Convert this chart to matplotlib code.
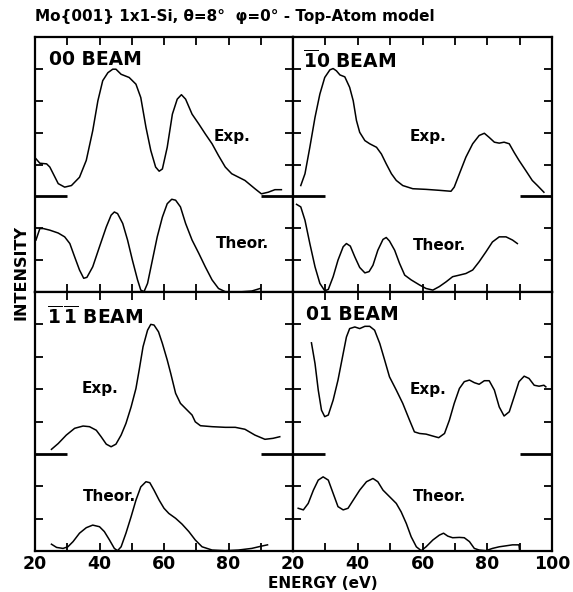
import matplotlib
matplotlib.use("Agg")
import matplotlib.pyplot as plt

plt.rcParams['font.family'] = ['DejaVu Sans']
plt.rcParams['font.weight'] = 'bold'
plt.rcParams['mathtext.fontset'] = 'custom'
plt.rcParams['mathtext.rm'] = 'DejaVu Sans:bold'
plt.rcParams['mathtext.bf'] = 'DejaVu Sans:bold'

# ---- data (energy in eV, intensity in tick units) ----
# experimental curves are measured from their own zero line (drawn at EXP_ZERO)
b00_exp_e = [20.3, 21.5, 23.6, 24.6, 27.2, 29.2, 31.3, 33.8, 35.9, 37.9, 39.5, 41.0, 42.6, 44.1,
             45.1, 46.7, 49.2, 51.3, 52.8, 54.4, 55.9, 57.4, 58.5, 59.5, 61.0, 62.6, 64.1, 65.4,
             66.7, 68.7, 70.8, 72.8, 74.9, 76.9, 79.0, 81.0, 85.1, 88.2, 90.2, 92.3, 94.4, 96.4]
b00_exp_i = [1.18, 1.04, 1.02, 0.92, 0.40, 0.29, 0.34, 0.60, 1.13, 2.06, 3.0, 3.63, 3.88, 3.99,
             3.99, 3.83, 3.73, 3.52, 3.10, 2.17, 1.44, 0.92, 0.79, 0.86, 1.54, 2.58, 3.05, 3.19,
             3.05, 2.58, 2.27, 1.96, 1.65, 1.28, 0.92, 0.71, 0.5, 0.24, 0.08, 0.13, 0.21, 0.21]
b00_th_e = [20.3, 21.5, 22.6, 24.6, 27.2, 29.2, 30.8, 32.3, 33.8, 35.1, 36.1, 37.9, 40.0, 42.1,
            43.6, 44.6, 45.6, 47.2, 48.7, 50.2, 51.8, 52.8, 53.8, 54.9, 56.4, 57.9, 59.5, 61.0,
            62.4, 63.6, 65.1, 66.7, 68.7, 70.8, 72.8, 74.9, 76.9, 79.0, 83.1, 87.2, 89.8]
b00_th_i = [1.63, 1.99, 1.99, 1.94, 1.85, 1.73, 1.52, 1.10, 0.69, 0.43, 0.46, 0.79, 1.42, 2.04,
            2.41, 2.51, 2.46, 2.15, 1.63, 1.0, 0.38, 0.06, 0.01, 0.27, 1.0, 1.73, 2.35, 2.77,
            2.91, 2.88, 2.67, 2.15, 1.63, 1.21, 0.79, 0.38, 0.11, 0.01, 0.0, 0.03, 0.11]

b10_exp_e = [22.4, 23.7, 25.2, 26.8, 28.3, 29.8, 31.4, 32.4, 33.4, 34.5, 36.0, 37.5, 38.6, 39.6,
             40.6, 42.2, 43.7, 45.8, 47.3, 48.8, 50.4, 51.9, 53.9, 57.0, 61.1, 65.2, 68.8, 69.8,
             71.4, 73.4, 75.5, 77.5, 79.1, 80.6, 82.2, 83.7, 85.2, 86.8, 88.3, 89.8, 91.9, 93.9,
             95.5, 97.5]
b10_exp_i = [0.34, 0.71, 1.54, 2.48, 3.21, 3.73, 3.97, 4.01, 3.94, 3.81, 3.75, 3.42, 3.0, 2.38,
             2.01, 1.75, 1.65, 1.54, 1.33, 1.02, 0.71, 0.5, 0.34, 0.24, 0.22, 0.19, 0.16, 0.29,
             0.71, 1.23, 1.65, 1.91, 1.98, 1.85, 1.70, 1.67, 1.70, 1.65, 1.38, 1.13, 0.81, 0.5,
             0.34, 0.13]
b10_th_e = [21.1, 22.4, 23.7, 25.2, 26.8, 28.3, 29.8, 30.9, 32.4, 33.9, 35.5, 36.5, 37.7, 39.1,
            40.6, 42.2, 43.5, 44.7, 46.2, 47.8, 48.8, 49.8, 51.4, 52.9, 54.5, 56.5, 59.1, 61.1,
            63.2, 65.2, 67.3, 69.3, 71.4, 73.4, 75.5, 77.5, 79.6, 81.6, 83.7, 85.8, 87.8, 89.3]
b10_th_i = [2.75, 2.67, 2.25, 1.52, 0.79, 0.27, 0.04, 0.08, 0.48, 1.0, 1.42, 1.52, 1.44, 1.10,
            0.77, 0.60, 0.64, 0.84, 1.31, 1.65, 1.71, 1.60, 1.31, 0.90, 0.53, 0.38, 0.22, 0.11,
            0.06, 0.17, 0.32, 0.48, 0.53, 0.58, 0.69, 0.95, 1.26, 1.57, 1.73, 1.73, 1.63, 1.52]

b11_exp_e = [25.1, 27.2, 29.7, 32.3, 34.9, 36.9, 39.0, 40.5, 42.1, 43.6, 45.1, 46.7, 48.2, 49.8,
             51.3, 52.3, 53.5, 54.9, 55.9, 56.9, 58.3, 59.5, 61.0, 62.1, 63.6, 65.1, 67.2, 68.7,
             69.7, 71.3, 74.9, 79.0, 82.1, 85.1, 88.2, 91.3, 93.8, 95.9]
b11_exp_i = [0.14, 0.32, 0.58, 0.79, 0.86, 0.84, 0.73, 0.53, 0.30, 0.22, 0.30, 0.58, 0.94, 1.45,
             2.02, 2.59, 3.31, 3.82, 4.0, 3.98, 3.77, 3.41, 2.90, 2.48, 1.87, 1.56, 1.35, 1.20,
             0.99, 0.87, 0.84, 0.82, 0.82, 0.76, 0.58, 0.45, 0.48, 0.53]
b11_th_e = [25.1, 26.7, 28.7, 30.2, 31.8, 33.8, 35.9, 37.9, 40.0, 41.5, 43.1, 44.6, 45.6, 46.7,
            48.2, 49.8, 51.3, 52.8, 54.4, 55.6, 56.9, 58.5, 60.0, 61.5, 63.6, 65.6, 67.7, 69.7,
            71.8, 74.9, 79.0, 83.1, 87.2, 90.2, 92.1]
b11_th_i = [0.21, 0.11, 0.08, 0.13, 0.29, 0.55, 0.72, 0.80, 0.75, 0.60, 0.34, 0.08, 0.01, 0.13,
            0.55, 1.06, 1.57, 1.98, 2.14, 2.11, 1.88, 1.57, 1.32, 1.16, 1.01, 0.83, 0.60, 0.34,
            0.13, 0.03, 0.01, 0.03, 0.08, 0.15, 0.19]

b01_exp_e = [25.7, 26.8, 27.8, 28.8, 29.8, 30.9, 32.4, 33.9, 35.5, 36.5, 37.5, 39.1, 40.6, 42.2,
             43.7, 45.2, 46.8, 48.3, 49.8, 51.9, 53.9, 56.0, 57.5, 59.1, 61.1, 63.2, 65.0, 66.8,
             68.3, 69.8, 71.4, 72.9, 74.5, 76.0, 77.5, 79.1, 80.6, 82.2, 83.7, 85.2, 86.8, 88.3,
             89.8, 91.4, 92.9, 94.5, 96.0, 97.5, 98.1]
b01_exp_i = [3.43, 2.79, 1.97, 1.35, 1.15, 1.20, 1.66, 2.28, 3.10, 3.61, 3.87, 3.92, 3.87, 3.94,
             3.94, 3.82, 3.41, 2.90, 2.38, 1.97, 1.56, 1.04, 0.68, 0.63, 0.61, 0.55, 0.50, 0.63,
             1.04, 1.56, 2.02, 2.23, 2.28, 2.20, 2.15, 2.26, 2.26, 1.97, 1.45, 1.17, 1.30, 1.76,
             2.23, 2.40, 2.33, 2.12, 2.09, 2.12, 2.07]
b01_th_e = [21.6, 23.2, 24.7, 26.3, 27.8, 29.3, 30.9, 32.4, 33.9, 35.5, 37.0, 38.6, 40.6, 42.7,
            44.7, 46.2, 47.8, 49.8, 51.9, 53.4, 55.0, 56.5, 58.1, 59.6, 61.1, 63.2, 65.2, 66.5,
            67.8, 69.3, 71.4, 72.9, 74.5, 76.0, 77.5, 79.6, 81.6, 83.7, 85.8, 87.8, 89.8, 90.0]
b01_th_i = [1.32, 1.27, 1.47, 1.88, 2.19, 2.29, 2.19, 1.78, 1.37, 1.27, 1.32, 1.57, 1.88, 2.14,
            2.24, 2.14, 1.88, 1.68, 1.47, 1.21, 0.85, 0.44, 0.13, 0.01, 0.13, 0.34, 0.49, 0.55,
            0.46, 0.41, 0.42, 0.41, 0.29, 0.08, 0.03, 0.01, 0.08, 0.13, 0.16, 0.19, 0.19, 0.0]

beam_labels = ['00 BEAM', r'$\overline{1}$0 BEAM', r'$\overline{1}\,\overline{1}$ BEAM', '01 BEAM']
title = 'Mo{001} 1x1-Si, θ=8°  φ=0° - Top-Atom model'
EXP_ZERO = 3.0
zero_marks = [(20, 30), (90, 100)]

panels = [
    (b00_exp_e, b00_exp_i, b00_th_e, b00_th_i),
    (b10_exp_e, b10_exp_i, b10_th_e, b10_th_i),
    (b11_exp_e, b11_exp_i, b11_th_e, b11_th_i),
    (b01_exp_e, b01_exp_i, b01_th_e, b01_th_i),
]
# label positions (energy, height) : beam name, Exp., Theor.
label_pos = [
    ((24.4, 7.6), (75.4, 4.87), (76.0, 1.52)),
    ((23.2, 7.6), (56.0, 4.87), (56.9, 1.47)),
    ((23.8, 7.6), (34.4, 5.02), (34.8, 1.68)),
    ((24.0, 7.6), (56.0, 5.00), (56.9, 1.68)),
]

W, H = 573, 592
fig = plt.figure(figsize=(W / 100, H / 100), dpi=100)
x0, x1, xm = 35, 552, 293
y0, y1, ym = 37, 551, 292
boxes = [
    (x0, y0, xm, ym), (xm, y0, x1, ym),
    (x0, ym, xm, y1), (xm, ym, x1, y1),
]

for k, (ex, ei, tx, ti) in enumerate(panels):
    l, t, r, b = boxes[k]
    ax = fig.add_axes([l / W, 1 - b / H, (r - l) / W, (b - t) / H])
    ax.plot(ex, [v + EXP_ZERO for v in ei], color='black', lw=1.1)
    ax.plot(tx, ti, color='black', lw=1.1)
    for a, c in zero_marks:
        ax.plot([a, c], [EXP_ZERO, EXP_ZERO], color='black', lw=2.0, solid_capstyle='butt')
    ax.set_xlim(20, 100)
    ax.set_ylim(0, 8)
    ax.set_yticks([1, 2, 4, 5, 6, 7])
    ax.set_xticks(range(30, 100, 10))
    ax.tick_params(direction='in', length=5.5, width=1.3, top=True, right=True,
                   labelleft=False, labelright=False, labeltop=False)
    for sp in ax.spines.values():
        sp.set_linewidth(1.6)
    if k >= 2:
        ticks = list(range(20, 101, 10))
        ax.set_xticks(ticks)
        labs = [str(v) if (v % 20 == 0 and (k == 3 or v < 100)) else '' for v in ticks]
        ax.set_xticklabels(labs, fontsize=12.5, fontweight='bold')
        ax.tick_params(axis='x', pad=3)
    else:
        ax.tick_params(labelbottom=False)
    (bx, by), (epx, epy), (thx, thy) = label_pos[k]
    ax.text(bx, by, beam_labels[k], fontsize=13.5, fontweight='bold', va='top', ha='left')
    ax.text(epx, epy, 'Exp.', fontsize=11, fontweight='bold', va='center', ha='left')
    ax.text(thx, thy, 'Theor.', fontsize=11, fontweight='bold', va='center', ha='left')

fig.text(35 / W, 1 - 16 / H, title, fontsize=11, fontweight='bold', ha='left', va='center')
fig.text(21 / W, 1 - 273 / H, 'INTENSITY', fontsize=11.5, fontweight='bold', rotation=90,
         ha='center', va='center')
fig.text(323 / W, 1 - 584 / H, 'ENERGY (eV)', fontsize=11, fontweight='bold',
         ha='center', va='center')

fig.savefig('out.png', dpi=100)
